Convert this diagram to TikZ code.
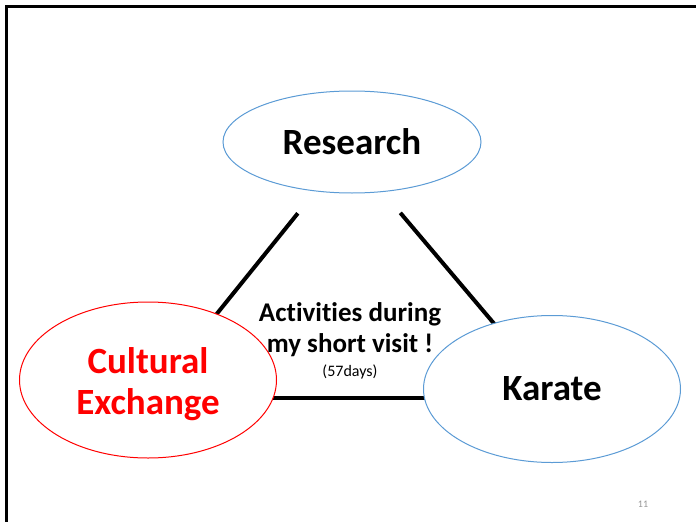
\documentclass[tikz,border=0pt]{standalone}
\usepackage{fontspec}
\setmainfont[Ligatures=NoCommon]{Carlito}
\usetikzlibrary{shapes, calc}

\definecolor{topicblue}{RGB}{91,155,213}
\definecolor{pagegray}{RGB}{150,150,150}

\tikzset{
	topic/.style={draw=topicblue, ellipse, fill=white, line width=1pt,
		inner sep=0pt, align=center,
		font=\bfseries\fontsize{37}{41}\selectfont},
	side/.style={line width=4pt},
}

\begin{document}
\begin{tikzpicture}[x=1pt, y=-1pt]
	\useasboundingbox (0,0) rectangle (696,522);

	% slide frame
	\draw[line width=3pt] (6.5,522) -- (6.5,6.5) -- (696,6.5);

	\coordinate (apex)  at (348,151);
	\coordinate (left)  at (149,398);
	\coordinate (right) at (557,398);

	\draw[side, shorten <=80pt] (apex) -- (left);
	\draw[side, shorten <=81pt] (apex) -- (right);
	\draw[side] (left) -- (right);

	\node[topic, minimum width=258pt, minimum height=102pt] (research) at (352,142)
		{Research};
	\node[topic, draw=red, minimum width=257pt, minimum height=156pt,
		label={[text=red, align=center, inner sep=0pt, yshift=-4pt,
			font=\bfseries\fontsize{37}{41}\selectfont]center:Cultural\\Exchange}] (cultural) at (148,380)
		{};
	\node[topic, minimum width=257pt, minimum height=147pt] (karate) at (552,389)
		{Karate};

	\node[anchor=base, font=\bfseries\fontsize{27}{31}\selectfont] (activities) at (350,321)
		{Activities during};
	\node[anchor=base, font=\bfseries\fontsize{27}{31}\selectfont] (visit) at (350,352)
		{my short visit !};
	\node[anchor=base, font=\fontsize{16}{19}\selectfont] (days) at (350,376)
		{(57days)};

	\node[anchor=base, text=pagegray, font=\fontsize{10}{12}\selectfont] (page) at (643,507)
		{11};
\end{tikzpicture}
\end{document}
